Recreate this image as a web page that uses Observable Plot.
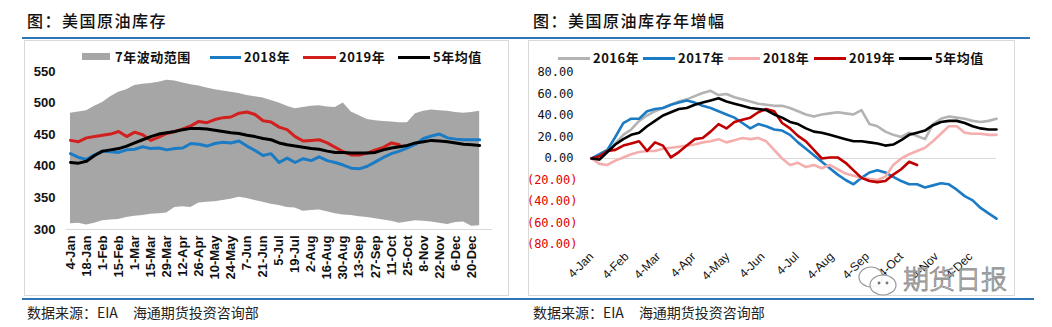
<!DOCTYPE html>
<html>
<head>
<meta charset="utf-8">
<script src="https://cdn.jsdelivr.net/npm/d3@7"></script>
<script src="https://cdn.jsdelivr.net/npm/@observablehq/plot@0.6"></script>
<style>
  html, body { margin: 0; padding: 0; background: #fff; }
  #wrap { position: relative; width: 1052px; height: 327px; overflow: hidden; background: #fff;
          font-family: "Noto Sans CJK SC", "Liberation Sans", sans-serif; }
  .abs { position: absolute; }
  .title { font-size: 16px; font-weight: 500; letter-spacing: 1.5px; color: #111; line-height: 22px; white-space: nowrap; }
  .src { font-size: 14px; color: #222; line-height: 18px; white-space: nowrap; }
  .box { border: 1px solid #d9d9d9; box-sizing: border-box; }
  .rule { background: #2e75b6; height: 2px; }
  .lg { font-size: 13px; font-weight: 700; color: #111; line-height: 16px; white-space: nowrap; letter-spacing: 0.5px; }
  .sw { height: 3px; }
  svg.plot { position: absolute; top: 0; }
</style>
</head>
<body>
<div id="wrap"></div>
<script>
// ---------------- DATA ----------------
// Left chart: US crude oil inventory (weekly, 2019 calendar weeks, Friday dates)
const weekLabels = ["4-Jan","18-Jan","1-Feb","15-Feb","1-Mar","15-Mar","29-Mar","12-Apr","26-Apr","10-May","24-May","7-Jun","21-Jun","5-Jul","19-Jul","2-Aug","16-Aug","30-Aug","13-Sep","27-Sep","11-Oct","25-Oct","8-Nov","22-Nov","6-Dec","20-Dec"];
const yTicksLeft = [300, 350, 400, 450, 500, 550];
const band7High = [484,486,488,495,501,510,517,521,528,530,531,533,536,535,532,529,527,524,521,519,517,515,512,510,508,504,500,495,491,493,495,496,494,493,500,486,480,474,472,471,470,469,469,483,487,489,488,487,485,484,485,487];
const band7Low  = [309,310,307,310,314,315,316,319,321,322,324,325,326,335,336,335,342,343,344,346,348,351,349,346,343,340,338,335,334,329,330,331,328,325,323,322,320,319,317,315,313,310,312,314,313,312,310,308,311,312,305,306];
const inv2018 = [420,414,411,418,424,423,422,426,427,431,428,429,426,428,429,436,435,432,436,438,437,440,432,425,417,420,406,413,406,412,409,415,409,406,402,397,396,400,407,414,420,424,429,435,444,448,451,445,443,442,442,442];
const inv2019 = [441,439,445,447,449,451,455,447,454,450,441,446,452,455,459,464,471,469,474,477,478,484,486,482,472,470,462,458,447,440,441,442,437,430,423,418,418,421,426,430,437,434];
const inv5yr  = [406,405,408,417,424,426,428,432,437,442,447,451,453,455,458,460,460,459,457,455,453,452,449,447,444,442,437,434,432,430,428,427,424,422,422,421,421,421,422,426,429,431,433,437,439,441,440,439,437,435,434,433];

// Right chart: year-to-date change of US crude inventory
const firstWeek = "2019-01-04";
const monthLabels = ["4-Jan","4-Feb","4-Mar","4-Apr","4-May","4-Jun","4-Jul","4-Aug","4-Sep","4-Oct","4-Nov","4-Dec"];
const yTicksRightPos = [0, 20, 40, 60, 80];
const yTicksRightNeg = [-20, -40, -60, -80];
const chg2016 = [0,-1,6,14,22,27,35,40,44,47,50,53,55,58,61,63,59,60,57,55,53,51,50,49,49,47,44,41,39,41,42,43,42,41,45,32,30,25,22,20,24,21,18,32,37,39,38,37,35,34,35,37];
const chg2017 = [0,4,8,20,33,37,37,44,46,47,50,52,54,52,49,47,44,41,38,33,28,32,30,27,26,22,15,9,3,-3,-9,-15,-20,-24,-18,-13,-11,-13,-17,-21,-24,-24,-27,-25,-23,-24,-29,-35,-39,-46,-51,-56];
const chg2018 = [0,-5,-6,-2,1,4,6,7,7,9,10,11,12,13,15,16,18,15,17,19,18,19,16,8,0,-6,-4,-8,-6,-9,-6,-10,-14,-16,-18,-19,-20,-17,-6,0,4,7,10,16,23,30,30,24,23,23,22,22];
const chg2019 = [0,2,7,8,12,14,16,7,15,12,1,6,12,18,19,25,32,28,34,36,38,43,46,44,33,28,21,16,8,0,1,1,-4,-11,-18,-21,-22,-21,-15,-10,-3,-6];
const chg5yr  = [0,-1,6,13,18,22,24,30,35,40,43,46,47,50,52,54,56,53,51,49,47,46,45,41,38,34,32,28,25,24,22,20,18,16,16,15,14,12,13,17,22,24,26,31,34,35,35,33,30,28,27,27];

// ---------------- COLOURS ----------------
const cBand = "#a6a6a6", cBlue = "#1b7bc4", cRed = "#d2201e", cBlack = "#000000";
const c2016 = "#b3b3b3", c2017 = "#1b7bc4", c2018 = "#f5aeae", c2019 = "#c00000";

const wrap = document.getElementById("wrap");
function el(tag, cls, css, html) {
  const e = document.createElement(tag);
  if (cls) e.className = cls;
  Object.assign(e.style, css || {});
  if (html !== undefined) e.innerHTML = html;
  wrap.appendChild(e);
  return e;
}

// ---------------- LEFT CHART ----------------
const leftRows = band7High.map((h, i) => ({i, hi: h, lo: band7Low[i]}));
const toRows = arr => arr.map((v, i) => ({i, v}));
const numFont = "'Liberation Sans', Arial, sans-serif";

const left = Plot.plot({
  width: 520, height: 300,
  marginLeft: 66, marginRight: 28, marginTop: 71, marginBottom: 71,
  style: {background: "transparent", fontFamily: numFont, color: "#111"},
  x: {type: "linear", domain: [-0.5, 52.6], axis: null},
  y: {domain: [300, 550], axis: null},
  marks: [
    Plot.areaY(leftRows, {x: "i", y1: "lo", y2: "hi", fill: cBand}),
    Plot.ruleY([300], {stroke: "#d9d9d9", strokeWidth: 1}),
    Plot.lineY(toRows(inv2018), {x: "i", y: "v", stroke: cBlue, strokeWidth: 3}),
    Plot.lineY(toRows(inv2019), {x: "i", y: "v", stroke: cRed, strokeWidth: 3}),
    Plot.lineY(toRows(inv5yr), {x: "i", y: "v", stroke: cBlack, strokeWidth: 3}),
    Plot.axisY({ticks: yTicksLeft, label: null, tickSize: 0, tickPadding: 11, fontSize: 13, fontWeight: "bold", tickFormat: d => String(d)}),
    Plot.axisX({ticks: weekLabels.map((_, k) => 2 * k), label: null, tickFormat: d => weekLabels[d / 2],
      tickRotate: -90, tickSize: 0, tickPadding: 6, textAnchor: "end", lineAnchor: "middle",
      fontSize: 13, fontWeight: "bold"})
  ]
});
left.classList.add("plot");
left.style.left = "0px";
wrap.appendChild(left);

// ---------------- RIGHT CHART ----------------
const d0 = new Date(firstWeek + "T00:00:00Z");
const weekDate = i => d3.utcDay.offset(d0, 7 * i);
const rowsR = arr => arr.map((v, i) => ({d: weekDate(i), v}));
const monthTicks = monthLabels.map((_, m) => new Date(Date.UTC(2019, m, 4)));

const right = Plot.plot({
  width: 532, height: 300,
  marginLeft: 71, marginRight: 56, marginTop: 72, marginBottom: 56,
  style: {background: "transparent", fontFamily: "'DejaVu Sans Mono', monospace", color: "#111"},
  x: {type: "utc", domain: [weekDate(0), weekDate(51)], axis: null},
  y: {domain: [-80, 80], axis: null},
  marks: [
    Plot.ruleY([0], {stroke: "#d9d9d9", strokeWidth: 1}),
    Plot.lineY(rowsR(chg2016), {x: "d", y: "v", stroke: c2016, strokeWidth: 2.6}),
    Plot.lineY(rowsR(chg2017), {x: "d", y: "v", stroke: c2017, strokeWidth: 2.6}),
    Plot.lineY(rowsR(chg2018), {x: "d", y: "v", stroke: c2018, strokeWidth: 2.6}),
    Plot.lineY(rowsR(chg2019), {x: "d", y: "v", stroke: c2019, strokeWidth: 2.6}),
    Plot.lineY(rowsR(chg5yr), {x: "d", y: "v", stroke: cBlack, strokeWidth: 2.6}),
    Plot.axisY({ticks: yTicksRightPos, label: null, tickSize: 0, tickPadding: 18, fontSize: 12, fill: "#111",
      tickFormat: d => d.toFixed(2)}),
    Plot.axisY({ticks: yTicksRightNeg, label: null, tickSize: 0, tickPadding: 14, fontSize: 12, fill: "#e00000",
      tickFormat: d => "(" + Math.abs(d).toFixed(2) + ")"}),
    Plot.axisX({ticks: monthTicks, label: null, tickFormat: d => monthLabels[d.getUTCMonth()],
      tickRotate: -45, tickSize: 0, tickPadding: 10, textAnchor: "end", lineAnchor: "middle",
      fontSize: 12, fontFamily: numFont, fill: "#111"})
  ]
});
right.classList.add("plot");
right.style.left = "520px";
wrap.appendChild(right);

// ---------------- FRAME, TITLES, LEGENDS ----------------
el("div", "abs box", {left: "24px", top: "40px", width: "485px", height: "256px"});
el("div", "abs box", {left: "528px", top: "40px", width: "487px", height: "256px"});
el("div", "abs rule", {left: "22px", top: "36.5px", width: "1008px"});
el("div", "abs rule", {left: "22px", top: "298px", width: "1012px"});

el("div", "abs title", {left: "27px", top: "9px"}, "图：美国原油库存");
el("div", "abs title", {left: "533px", top: "9px"}, "图：美国原油库存年增幅");
el("div", "abs src", {left: "27px", top: "303px"}, "数据来源：EIA<span style='margin-left:15px'>海通期货投资咨询部</span>");
el("div", "abs src", {left: "533px", top: "303px"}, "数据来源：EIA<span style='margin-left:15px'>海通期货投资咨询部</span>");

// left legend
el("div", "abs", {left: "82px", top: "53px", width: "28px", height: "7px", background: cBand});
el("div", "abs lg", {left: "115px", top: "48.5px"}, "7年波动范围");
[[210, 244, cBlue, "2018年"], [303, 339, cRed, "2019年"], [398, 433, cBlack, "5年均值"]].forEach(([x0, tx, c, t]) => {
  el("div", "abs sw", {left: x0 + "px", top: "55.5px", width: (tx - x0 - 3) + "px", background: c});
  el("div", "abs lg", {left: tx + "px", top: "48.5px"}, t);
});
// right legend
[[558, 593, c2016, "2016年"], [643, 678, c2017, "2017年"], [728, 763, c2018, "2018年"], [814, 849, c2019, "2019年"], [899, 935, cBlack, "5年均值"]].forEach(([x0, tx, c, t]) => {
  el("div", "abs sw", {left: x0 + "px", top: "56.5px", width: (tx - x0 - 3) + "px", background: c});
  el("div", "abs lg", {left: tx + "px", top: "49.5px"}, t);
});

// watermark
el("div", "abs", {left: "856px", top: "264px", width: "46px", height: "34px"},
  "<svg width='46' height='34' viewBox='0 0 46 34'>" +
  "<ellipse cx='15' cy='13' rx='12' ry='10' fill='rgba(255,255,255,0.6)' stroke='#9a9a9a' stroke-width='1.2'/>" +
  "<ellipse cx='27' cy='21' rx='13' ry='10' fill='rgba(255,255,255,0.85)' stroke='#9a9a9a' stroke-width='1.2'/>" +
  "<circle cx='23' cy='19' r='1.4' fill='#777'/><circle cx='31' cy='19' r='1.4' fill='#777'/></svg>");
el("div", "abs", {left: "903px", top: "261px", fontSize: "26px", lineHeight: "34px", color: "rgba(240,240,240,0.85)",
  webkitTextStroke: "0.9px #8c8c8c", fontWeight: "300", whiteSpace: "nowrap", letterSpacing: "0px"}, "期货日报");
</script>
</body>
</html>
